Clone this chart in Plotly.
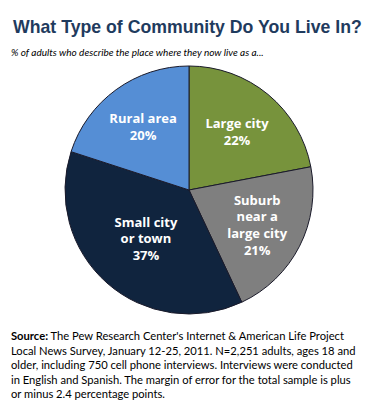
import plotly.graph_objects as go

categories = ["Large city", "Suburb near a large city", "Small city or town", "Rural area"]
label_text = ["Large city", "Suburb<br>near a<br>large city", "Small city<br>or town", "Rural area"]
values = [22, 21, 37, 20]
colors = ["#77933C", "#7F7F7F", "#10243E", "#558ED5"]

title = "What Type of Community Do You Live In?"
subtitle = "% of adults who describe the place where they now live as a..."
source = ("<b>Source:</b> The Pew Research Center's Internet & American Life Project<br>"
          "Local News Survey, January 12-25, 2011. N=2,251 adults, ages 18 and<br>"
          "older, including 750 cell phone interviews. Interviews were conducted<br>"
          "in English and Spanish. The margin of error for the total sample is plus<br>"
          "or minus 2.4 percentage points.")

fig = go.Figure(go.Pie(
    labels=categories,
    values=values,
    text=label_text,
    texttemplate="<b>%{text}<br>%{value}%</b>",
    textposition="inside",
    insidetextorientation="horizontal",
    sort=False,
    direction="clockwise",
    rotation=0,
    marker=dict(colors=colors, line=dict(color="#1a1a2a", width=1)),
    textfont=dict(family="Open Sans, Liberation Sans, sans-serif", size=13, color="white"),
    domain=dict(x=[54/388, 308/388], y=[1-306/413, 1-58/413]),
    showlegend=False,
    hoverinfo="label+percent",
))

fig.update_layout(
    width=388, height=413,
    margin=dict(l=0, r=0, t=0, b=0),
    paper_bgcolor="white",
    plot_bgcolor="white",
    annotations=[
        dict(text="<b>" + title + "</b>", x=3/388, y=1-19/413, xref="paper", yref="paper",
             xanchor="left", yanchor="middle", showarrow=False,
             font=dict(family="Liberation Sans, Arial, sans-serif", size=17.7, color="#1F3B5E")),
        dict(text="<i>" + subtitle + "</i>", x=1/388, y=1-44/413, xref="paper", yref="paper",
             xanchor="left", yanchor="middle", showarrow=False,
             font=dict(family="Lato, sans-serif", size=10, color="black")),
        dict(text=source, x=1/388, y=1-319/413, xref="paper", yref="paper",
             xanchor="left", yanchor="top", align="left", showarrow=False,
             font=dict(family="Lato, sans-serif", size=11.2, color="black")),
    ],
)

fig.write_html("out.html")
